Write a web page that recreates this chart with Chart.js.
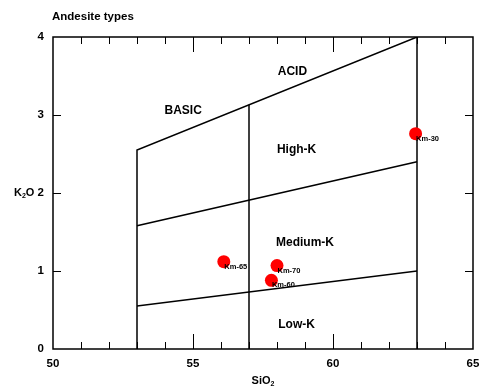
<!DOCTYPE html>
<html>
<head>
<meta charset="utf-8">
<script src="https://cdn.jsdelivr.net/npm/chart.js@4/dist/chart.umd.min.js"></script>
<style>
  html, body { margin: 0; padding: 0; background: #fff; }
  #wrap { width: 480px; height: 392px; }
</style>
</head>
<body>
<div id="wrap"><canvas id="plot"></canvas></div>
<script>
// samples
const sampleNames = ['Km-65', 'Km-70', 'Km-60', 'Km-30'];
const sio2 = [56.1, 58.0, 57.8, 62.95];
const k2o = [1.12, 1.07, 0.88, 2.76];

// field boundaries (SiO2, K2O)
const outerX = [53, 53, 63, 63];
const outerY = [0, 2.55, 4, 0];
const midX = [57, 57];
const midY = [0, 3.13];
const highX = [53, 63];
const highY = [1.58, 2.4];
const lowX = [53, 63];
const lowY = [0.55, 1.0];

// field names
const fieldNames = ['ACID', 'BASIC', 'High-K', 'Medium-K', 'Low-K'];
const fieldX = [58.55, 54.65, 58.7, 59.0, 58.7];
const fieldY = [3.55, 3.06, 2.55, 1.36, 0.31];

const xMin = 50, xMax = 65, yMin = 0, yMax = 4;
const xTickLabels = [50, 55, 60, 65];
const yTickLabels = [0, 1, 2, 3, 4];

const FONT = 'Arial, "Liberation Sans", sans-serif';

function toPts(xs, ys) {
    return xs.map((x, i) => ({ x: x, y: ys[i] }));
}

function lineSet(xs, ys) {
    return {
        type: 'line',
        data: toPts(xs, ys),
        borderColor: '#000',
        borderWidth: 1.5,
        pointRadius: 0,
        fill: false,
        tension: 0
    };
}

// text with a subscript part, e.g. SiO + 2
function subText(ctx, parts, x, y, align) {
    ctx.save();
    ctx.textBaseline = 'middle';
    ctx.fillStyle = '#000';
    let total = 0;
    parts.forEach(p => { ctx.font = p.font; total += ctx.measureText(p.t).width; });
    let cx = align === 'center' ? x - total / 2 : (align === 'right' ? x - total : x);
    parts.forEach(p => {
        ctx.font = p.font;
        ctx.textAlign = 'left';
        ctx.fillText(p.t, cx, y + (p.dy || 0));
        cx += ctx.measureText(p.t).width;
    });
    ctx.restore();
}

const decorations = {
    id: 'decorations',
    afterDraw(chart) {
        const ctx = chart.ctx;
        const xs = chart.scales.x, ys = chart.scales.y;
        const a = chart.chartArea;

        ctx.save();
        // frame
        ctx.strokeStyle = '#000';
        ctx.lineWidth = 1.5;
        ctx.strokeRect(a.left, a.top, a.right - a.left, a.bottom - a.top);

        // inward ticks on x (bottom + top)
        ctx.lineWidth = 1;
        for (let v = xMin + 1; v < xMax; v++) {
            const px = Math.round(xs.getPixelForValue(v)) + 0.5;
            const len = v % 5 === 0 ? 15 : 7;
            ctx.beginPath();
            ctx.moveTo(px, a.bottom);
            ctx.lineTo(px, a.bottom - len);
            ctx.moveTo(px, a.top);
            ctx.lineTo(px, a.top + len);
            ctx.stroke();
        }
        // inward ticks on y (left + right)
        for (let v = yMin + 1; v < yMax; v++) {
            const py = Math.round(ys.getPixelForValue(v)) + 0.5;
            ctx.beginPath();
            ctx.moveTo(a.left, py);
            ctx.lineTo(a.left + 8, py);
            ctx.moveTo(a.right, py);
            ctx.lineTo(a.right - 8, py);
            ctx.stroke();
        }

        // field names
        ctx.fillStyle = '#000';
        ctx.font = 'bold 12px ' + FONT;
        ctx.textAlign = 'center';
        ctx.textBaseline = 'middle';
        fieldNames.forEach((n, i) => {
            ctx.fillText(n, xs.getPixelForValue(fieldX[i]), ys.getPixelForValue(fieldY[i]));
        });

        // sample labels
        ctx.font = 'bold 7.5px ' + FONT;
        ctx.textAlign = 'left';
        sampleNames.forEach((n, i) => {
            ctx.fillText(n, xs.getPixelForValue(sio2[i]) + 0.5, ys.getPixelForValue(k2o[i]) + 5);
        });

        // title
        ctx.font = 'bold 11.5px ' + FONT;
        ctx.textAlign = 'left';
        ctx.fillText('Andesite types', 52, 17);
        ctx.restore();

        // axis titles
        const big = 'bold 11px ' + FONT, small = 'bold 7px ' + FONT;
        subText(ctx, [{ t: 'SiO', font: big }, { t: '2', font: small, dy: 3 }], (a.left + a.right) / 2, 381, 'center');
        subText(ctx, [{ t: 'K', font: big }, { t: '2', font: small, dy: 3 }, { t: 'O', font: big }], 14, ys.getPixelForValue(2), 'left');
    }
};

const chart = new Chart(document.getElementById('plot'), {
    type: 'scatter',
    data: {
        datasets: [
            {
                data: toPts(sio2, k2o),
                backgroundColor: '#ff0000',
                borderWidth: 0,
                pointRadius: 6.5,
                pointHoverRadius: 6.5,
                order: 0
            },
            Object.assign(lineSet(outerX, outerY), { order: 1 }),
            Object.assign(lineSet(midX, midY), { order: 1 }),
            Object.assign(lineSet(highX, highY), { order: 1 }),
            Object.assign(lineSet(lowX, lowY), { order: 1 })
        ]
    },
    options: {
        responsive: true,
        maintainAspectRatio: false,
        animation: false,
        layout: { padding: { top: 37, right: 1, left: 0, bottom: 0 } },
        plugins: { legend: { display: false }, tooltip: { enabled: false } },
        scales: {
            x: {
                type: 'linear',
                min: xMin,
                max: xMax,
                afterFit: s => { s.height = 43; s.paddingRight = 7; },
                afterBuildTicks: s => { s.ticks = xTickLabels.map(v => ({ value: v })); },
                grid: { display: false, drawTicks: false },
                border: { display: false },
                ticks: { color: '#000', padding: 8, font: { family: FONT, size: 11.5, weight: 'bold' }, maxRotation: 0 }
            },
            y: {
                type: 'linear',
                min: yMin,
                max: yMax,
                afterFit: s => { s.width = 53; },
                afterBuildTicks: s => { s.ticks = yTickLabels.map(v => ({ value: v })); },
                grid: { display: false, drawTicks: false },
                border: { display: false },
                ticks: { color: '#000', padding: 9, font: { family: FONT, size: 11.5, weight: 'bold' } }
            }
        }
    },
    plugins: [decorations]
});
</script>
</body>
</html>
